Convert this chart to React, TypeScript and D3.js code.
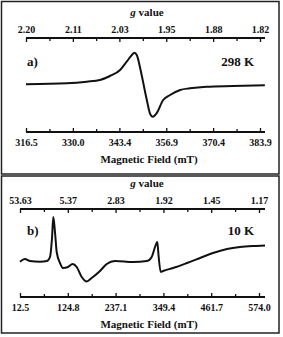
import React, { useEffect, useRef } from "react";
import * as d3 from "d3";

// panel a) 298 K
const fieldTicksA = [316.5, 330.0, 343.4, 356.9, 370.4, 383.9];
const gLabelsA = ["2.20", "2.11", "2.03", "1.95", "1.88", "1.82"];
const fieldA = [316.5, 328.2, 334.0, 337.8, 340.7, 343.6, 345.5, 347.0, 347.7, 348.4, 349.3, 350.3, 351.3, 352.2, 353.0, 354.1, 356.0, 358.0, 360.9, 363.7, 368.5, 376.1, 385.3];
const signalA = [0.7, 1.7, 3.3, 5, 9, 15, 23.3, 30, 32.3, 30, 18.3, 1.7, -15, -28.3, -31.7, -28.3, -15, -10, -5, -3.3, -1.7, -1, -0.3];

// panel b) 10 K
const fieldTicksB = [12.5, 124.8, 237.1, 349.4, 461.7, 574.0];
const gLabelsB = ["53.63", "5.37", "2.83", "1.92", "1.45", "1.17"];
const fieldB = [12.5, 24.2, 36.0, 59.5, 75.9, 83.0, 87.7, 90.7, 94.7, 98.7, 106.5, 113.5, 125.3, 136.3, 145.7, 157.5, 169.2, 180.9, 200.5, 216.2, 235.7, 278.0, 310.9, 321.9, 329.7, 335.1, 337.9, 343.1, 348.5, 372.0, 404.8, 435.4, 465.9, 498.8, 529.4, 559.9, 588.1];
const signalB = [0.3, 3, 1, 0.3, 1, 5, 24, 45, 30, 10, -1, -6, -5, -2, -5, -15, -19.5, -16, -9, -2, 1, 0, 1, 5, 15, 20, 7, -10, -9, -6, -1, 4, 9, 13, 15, 16, 16.5];

const FONT = "Liberation Serif, Times New Roman, serif";

function panel(svg: any, o: any) {
  const g = svg.append("g");
  const x = d3.scaleLinear().domain([o.ticks[0], o.ticks[o.ticks.length - 1]]).range([o.x0, o.x1]);
  const y = d3.scaleLinear().domain([-40, 40]).range([o.base + 40, o.base - 40]);
  const mids = o.ticks.slice(1).map((t: number, i: number) => (t + o.ticks[i]) / 2);

  // border
  g.append("rect").attr("x", 1.5).attr("y", o.top).attr("width", 277.5).attr("height", o.bottom - o.top)
    .attr("fill", "none").attr("stroke", "#222").attr("stroke-width", 1.5);

  const styleAxis = (sel: any) => {
    sel.selectAll(".domain").remove();
    sel.selectAll("line").attr("stroke", "#111").attr("stroke-width", 1.3);
    sel.selectAll("text").attr("font-family", FONT).attr("font-weight", "bold").attr("font-size", 10).attr("fill", "#111");
  };

  // top axis (g value)
  const top = g.append("g").attr("transform", `translate(0,${o.topAxis})`);
  top.call(d3.axisTop(x).tickValues(o.ticks).tickSizeInner(-4).tickSizeOuter(0).tickPadding(5)
    .tickFormat((d: any, i: number) => o.gLabels[i]));
  top.append("g").call(d3.axisTop(x).tickValues(mids).tickSizeInner(-3).tickSizeOuter(0).tickFormat(() => ""));
  styleAxis(top);
  top.append("line").attr("x1", o.x0).attr("x2", 265).attr("stroke", "#111").attr("stroke-width", 2);

  // bottom axis (field)
  const bot = g.append("g").attr("transform", `translate(0,${o.botAxis})`);
  bot.call(d3.axisBottom(x).tickValues(o.ticks).tickSizeInner(-4).tickSizeOuter(0).tickPadding(7)
    .tickFormat(d3.format(".1f")));
  bot.append("g").call(d3.axisBottom(x).tickValues(mids).tickSizeInner(-3).tickSizeOuter(0).tickFormat(() => ""));
  styleAxis(bot);
  bot.append("line").attr("x1", o.x0).attr("x2", 265).attr("stroke", "#111").attr("stroke-width", 2);

  const txt = (sel: any, size: number) =>
    sel.attr("font-family", FONT).attr("font-weight", "bold").attr("font-size", size).attr("fill", "#111");

  // titles
  const gv = g.append("text").attr("x", 147).attr("y", o.topAxis - 22).attr("text-anchor", "middle");
  txt(gv, 11);
  gv.append("tspan").attr("font-style", "italic").text("g");
  gv.append("tspan").text(" value");
  txt(g.append("text").attr("x", 149).attr("y", o.botAxis + 31).attr("text-anchor", "middle"), 11).text("Magnetic Field (mT)");
  txt(g.append("text").attr("x", 27).attr("y", o.labelY), 13).text(o.label);
  txt(g.append("text").attr("x", 254).attr("y", o.labelY).attr("text-anchor", "end"), 13).text(o.temp);

  const pts = o.field.map((f: number, i: number) => [f, o.signal[i]]);
  const line = d3.line().x((d: any) => x(d[0])).y((d: any) => y(d[1])).curve(d3.curveMonotoneX);
  g.append("path").datum(pts).attr("fill", "none").attr("stroke", "#111").attr("stroke-width", 2)
    .attr("stroke-linejoin", "round").attr("d", line);
}

export default function App() {
  const ref = useRef<SVGSVGElement>(null);
  useEffect(() => {
    const node = ref.current; if (!node) return;
    const svg = d3.select(node);
    svg.selectAll("*").remove();
    svg.append("rect").attr("width", 283).attr("height", 337).attr("fill", "#fff");
    panel(svg, {
      ticks: fieldTicksA, gLabels: gLabelsA, field: fieldA, signal: signalA,
      x0: 26, x1: 260, top: 1.5, bottom: 174, topAxis: 38, botAxis: 132, base: 85,
      labelY: 66, label: "a)", temp: "298 K",
    });
    panel(svg, {
      ticks: fieldTicksB, gLabels: gLabelsB, field: fieldB, signal: signalB,
      x0: 20, x1: 259, top: 176, bottom: 333, topAxis: 209, botAxis: 297, base: 262,
      labelY: 235, label: "b)", temp: "10 K",
    });
  }, []);
  return <svg ref={ref} width={283} height={337} style={{ position: "absolute", left: 0, top: 0 }} />;
}
